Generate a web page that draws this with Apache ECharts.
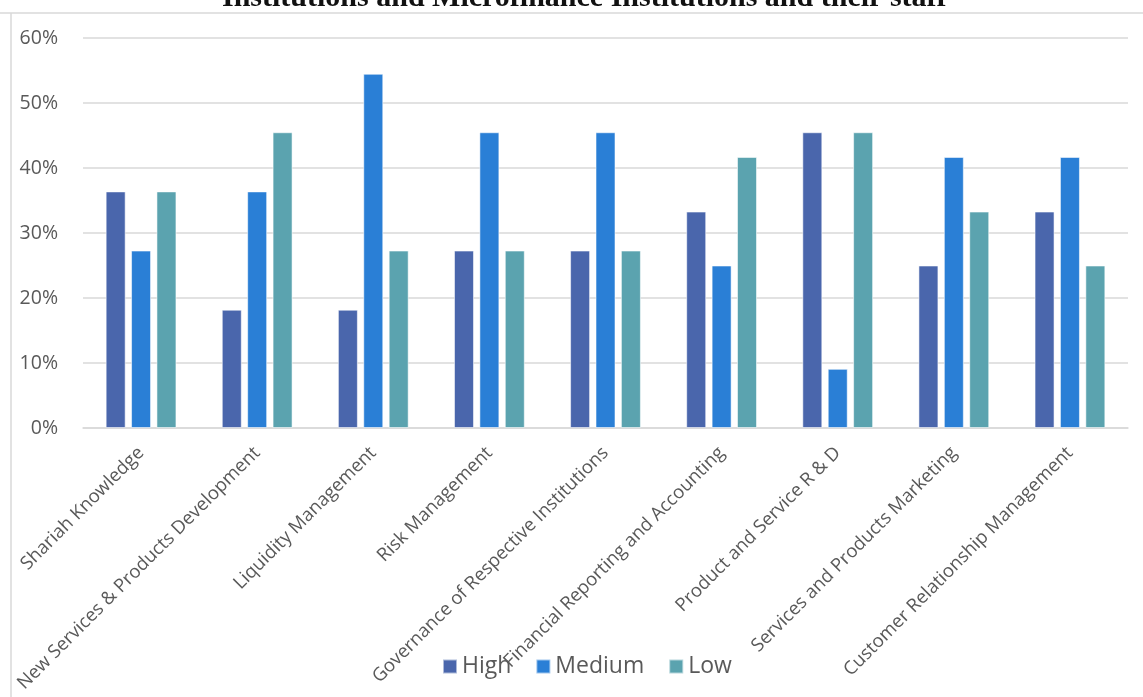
<!DOCTYPE html>
<html>
<head>
<meta charset="utf-8">
<title>Skills gap chart</title>
<script src="https://cdn.jsdelivr.net/npm/echarts@6/dist/echarts.min.js"></script>
<style>
  html, body { margin: 0; padding: 0; background: #fff; }
  #chart { width: 1143px; height: 697px; }
</style>
</head>
<body>
<div id="chart"></div>
<script>
// Skill areas on the horizontal axis
const categories = [
  'Shariah Knowledge',
  'New Services & Products Development',
  'Liquidity Management',
  'Risk Management',
  'Governance of Respective Institutions',
  'Financial Reporting and Accounting',
  'Product and Service R & D',
  'Services and Products Marketing',
  'Customer Relationship Management'
];

// Share of respondents (%) rating each need
const highValues   = [36.4, 18.2, 18.2, 27.3, 27.3, 33.3, 45.5, 25.0, 33.3];
const mediumValues = [27.3, 36.4, 54.5, 45.5, 45.5, 25.0,  9.1, 41.7, 41.7];
const lowValues    = [36.4, 45.5, 27.3, 27.3, 27.3, 41.7, 45.5, 33.3, 25.0];

const seriesNames = ['High', 'Medium', 'Low'];
const titleText = 'Institutions and Microfinance Institutions and their staff';

const colors = ['#4A66AC', '#2A7FD6', '#5BA3AF'];
const labelFont = '"Open Sans", Lato, sans-serif';

const chart = echarts.init(document.getElementById('chart'));

function barSeries(name, data, color) {
  return {
    name: name,
    type: 'bar',
    data: data,
    barWidth: 20,
    barGap: '27%',
    itemStyle: { color: color, borderColor: 'rgba(255,255,255,0.55)', borderWidth: 1 },
    emphasis: { disabled: true }
  };
}

chart.setOption({
  animation: false,
  color: colors,
  grid: { left: 83, right: 15, top: 38, bottom: 269, containLabel: false },
  graphic: [
    {
      type: 'text', left: 222, top: -17, z: 10,
      style: {
        text: titleText,
        font: 'bold 30px "Liberation Serif", "DejaVu Serif", serif',
        fill: '#111'
      }
    },
    {
      type: 'line', z: 5,
      shape: { x1: 0, y1: 13, x2: 1143, y2: 13 },
      style: { stroke: '#d9d9d9', lineWidth: 1.5 }
    },
    {
      type: 'line', z: 5,
      shape: { x1: 11, y1: 13, x2: 11, y2: 697 },
      style: { stroke: '#d9d9d9', lineWidth: 1.5 }
    }
  ],
  legend: {
    data: seriesNames,
    left: 437,
    top: 650,
    itemWidth: 14,
    itemHeight: 14,
    itemGap: 24,
    icon: 'rect',
    textStyle: { fontFamily: labelFont, fontSize: 23, color: '#595959' }
  },
  xAxis: {
    type: 'category',
    data: categories,
    axisTick: { show: false },
    axisLine: { lineStyle: { color: '#d9d9d9', width: 1.5 } },
    axisLabel: {
      rotate: 45,
      interval: 0,
      margin: 22,
      fontFamily: labelFont,
      fontSize: 18.5,
      color: '#595959'
    }
  },
  yAxis: {
    type: 'value',
    min: 0,
    max: 60,
    interval: 10,
    axisLine: { show: false },
    axisTick: { show: false },
    splitLine: { lineStyle: { color: '#d9d9d9', width: 1.5 } },
    axisLabel: {
      formatter: '{value}%',
      margin: 25,
      fontFamily: labelFont,
      fontSize: 19.5,
      color: '#595959'
    }
  },
  series: [
    barSeries(seriesNames[0], highValues, colors[0]),
    barSeries(seriesNames[1], mediumValues, colors[1]),
    barSeries(seriesNames[2], lowValues, colors[2])
  ]
});
</script>
</body>
</html>
